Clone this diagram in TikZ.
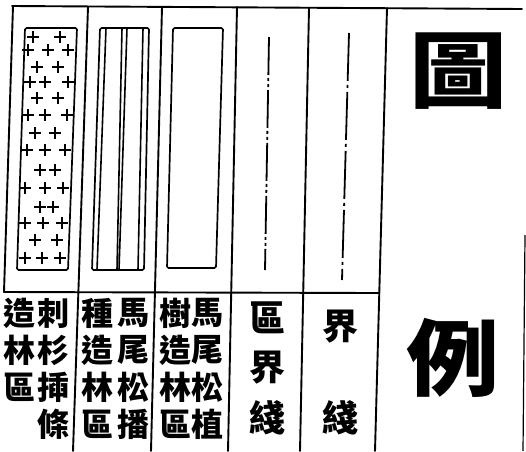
\documentclass[tikz,border=0pt]{standalone}
\usepackage{fontspec}
\newfontfamily\cjk{Noto Sans CJK TC}
\tikzset{
  frame/.style={line width=1.9pt, line cap=round},
  sym/.style={line width=1.7pt, line join=round, rounded corners=1.5pt},
  crs/.style={line width=2.6pt},
  lbl/.style={font=\cjk\bfseries\fontsize{32}{32}\selectfont, inner sep=0pt},
  lblb/.style={font=\cjk\bfseries\fontsize{36}{36}\selectfont, inner sep=0pt},
  big/.style={font=\cjk\bfseries\fontsize{98}{98}\selectfont, inner sep=0pt},
}
\begin{document}
\begin{tikzpicture}[x=1pt,y=-1pt]
\useasboundingbox (0,0) rectangle (526,451);
% frame
\coordinate (tl) at (12,6);
\coordinate (tr) at (522,9);
\draw[frame] (tl) -- (tr);
\draw[frame] (13,6) -- (4,292);
\draw[frame] (88,7) -- (73,451);
\draw[frame] (162,7) -- (151,451);
\draw[frame] (237,7) -- (228,451);
\draw[frame] (309,8) -- (300,451);
\draw[frame] (387,8) -- (375,451);
\draw[frame] (4,292) -- (379,293);
\draw[line width=1.2pt] (525,235) -- (523,451);
% column 1: crosses
\draw[sym] (25,28) -- (77,28) -- (68,270) -- (17,270) -- cycle;
\foreach \x/\y in {33/37,60/37, 28/50,48/50,68/50, 37/67,58/67, 30/82,45/82,68/82,
  37/98,58/98, 28/115,45/115,67/115, 35/133,55/133, 27/150,45/150,65/150,
  40/170,55/170, 25/188,45/188,63/188, 40/207,53/207, 25/223,43/223,62/223,
  35/240,57/240, 25/258,42/258,60/258}
  \draw[crs] (\x-6,\y) -- (\x+6,\y) (\x,\y-6) -- (\x,\y+6);
% column 2
\draw[sym] (100,28) -- (149,28) -- (144,270) -- (92,270) -- cycle;
\draw[line width=1.6pt] (106,28) -- (97,270) (122,28) -- (117,270) (127,28) -- (119,270) (143,28) -- (138,270);
% column 3
\draw[sym] (173,28) -- (223,28) -- (216,268) -- (167,268) -- cycle;
% column 4, 5 boundary lines
\draw[line width=1.8pt, dash pattern=on 38pt off 3pt on 3pt off 3pt on 3pt off 3pt] (269,37) -- (265,270);
\draw[line width=1.8pt, dash pattern=on 48pt off 4pt on 3pt off 4pt] (349,33) -- (342,280);
% labels
\foreach \ch [count=\i] in {刺,杉,揷,條} \node[lbl] (a\i) at (53,313+37*\i-37) {\ch};
\foreach \ch [count=\i] in {造,林,區} \node[lbl] (b\i) at (20,313+37*\i-37) {\ch};
\foreach \ch [count=\i] in {馬,尾,松,播} \node[lbl] (c\i) at (133,313+37*\i-37) {\ch};
\foreach \ch [count=\i] in {種,造,林,區} \node[lbl] (d\i) at (97,313+37*\i-37) {\ch};
\foreach \ch [count=\i] in {馬,尾,松,植} \node[lbl] (e\i) at (207,313+37*\i-37) {\ch};
\foreach \ch [count=\i] in {樹,造,林,區} \node[lbl] (f\i) at (175,313+37*\i-37) {\ch};
\foreach \ch [count=\i] in {區,界,綫} \node[lblb] (g\i) at (267,318+50*\i-50) {\ch};
\node[lblb] (h1) at (340,327) {界};
\node[lblb] (h2) at (340,418) {綫};
\node[big] (t1) at (458,71) {\scalebox{1}[0.85]{圖}};
\node[big] (t2) at (453,358) {\scalebox{0.95}[0.85]{例}};
\end{tikzpicture}
\end{document}
